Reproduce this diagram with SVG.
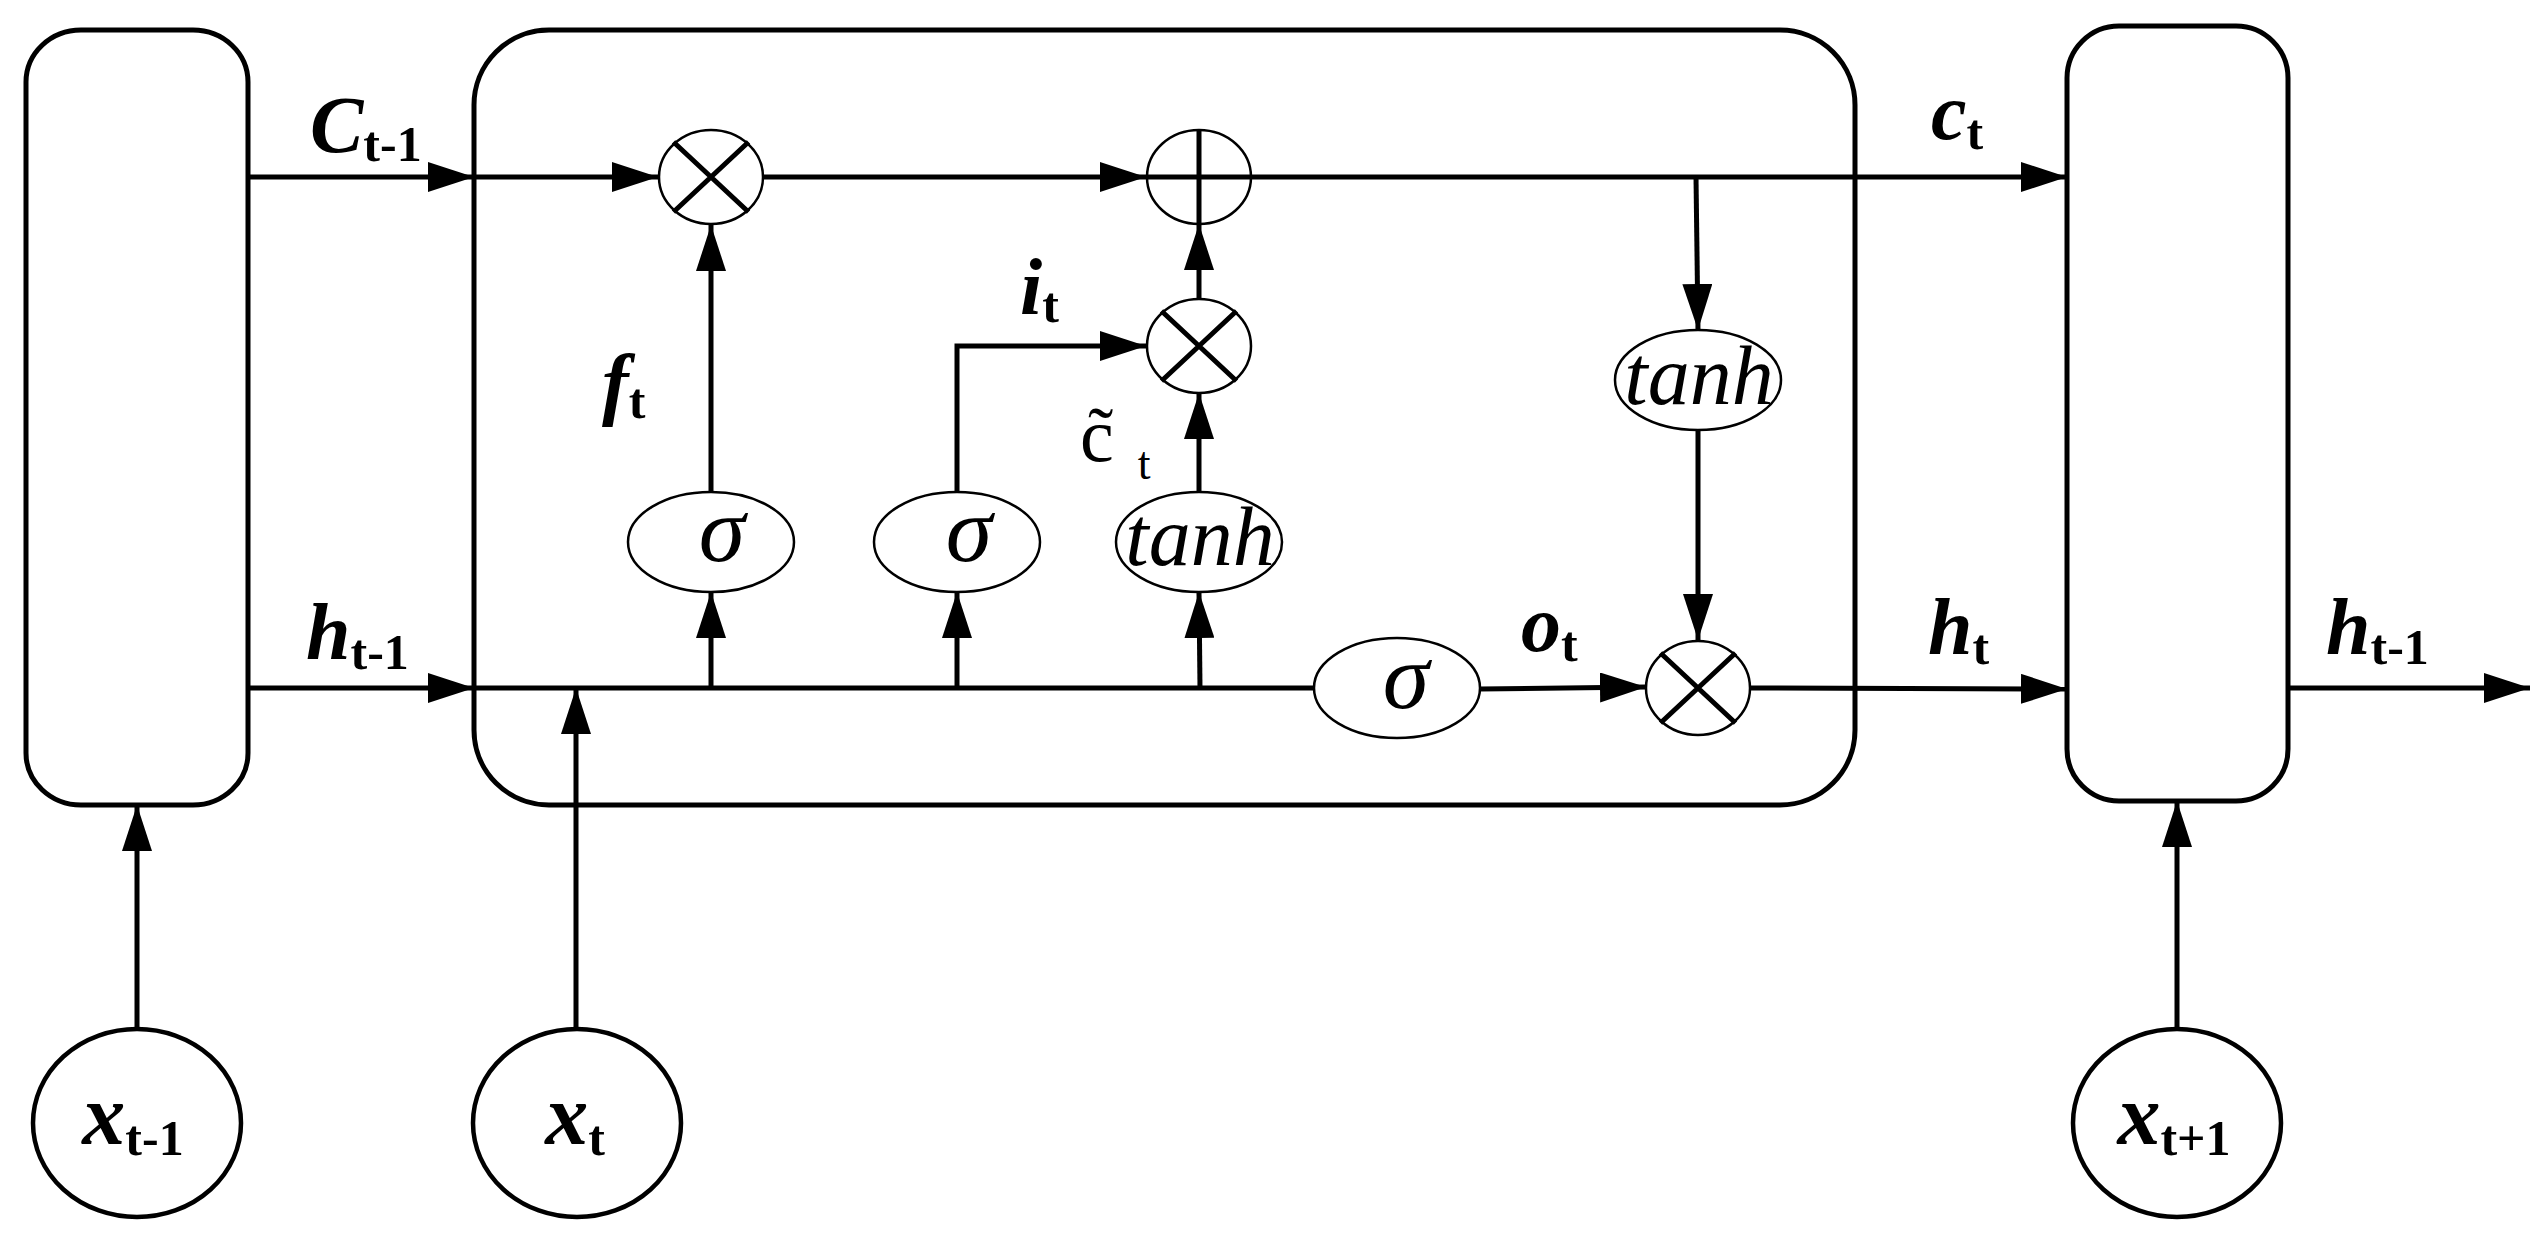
<svg xmlns="http://www.w3.org/2000/svg" width="2545" height="1250" viewBox="0 0 2545 1250">
<style>
.box{fill:none;stroke:#000;stroke-width:5}
.op{fill:#fff;stroke:#000;stroke-width:2.5}
.bar{stroke:#000;stroke-width:5;fill:none}
.in{fill:#fff;stroke:#000;stroke-width:4.5}
.wire{fill:none;stroke:#000;stroke-width:5}
.fn{font-family:"Liberation Serif","Times New Roman",serif;font-style:italic;font-size:84px;text-anchor:middle}
.sg{font-size:94px}
.lab{font-family:"Liberation Serif","Times New Roman",serif;font-weight:bold;font-style:italic;font-size:80px}
.big{font-size:86px}
.sub{font-style:normal;font-size:50px}
.rom{font-family:"Liberation Serif","Times New Roman",serif;fill:#000}
</style>
<defs>
<marker id="ah" markerUnits="userSpaceOnUse" markerWidth="46" markerHeight="30" refX="46" refY="15" orient="auto">
<path d="M0,0 L46,15 L0,30 z" fill="#000"/>
</marker>
</defs>
<rect width="2545" height="1250" fill="#fff"/>

<g id="cell-prev"><rect class="box" x="26" y="30" width="222" height="775" rx="55" ry="52"/></g>
<g id="cell-main"><rect class="box" x="474" y="30" width="1381" height="775" rx="75" ry="75"/></g>
<g id="cell-next"><rect class="box" x="2067" y="26" width="221" height="775" rx="52" ry="52"/></g>

<g id="connectors">
<line class="wire" x1="248" y1="177" x2="474" y2="177" marker-end="url(#ah)"/>
<line class="wire" x1="474" y1="177" x2="658" y2="177" marker-end="url(#ah)"/>
<line class="wire" x1="763" y1="177" x2="1146" y2="177" marker-end="url(#ah)"/>
<line class="wire" x1="1251" y1="177" x2="2067" y2="177" marker-end="url(#ah)"/>
<line class="wire" x1="1696" y1="177" x2="1698" y2="330" marker-end="url(#ah)"/>
<line class="wire" x1="1698" y1="430" x2="1698" y2="640" marker-end="url(#ah)"/>
<line class="wire" x1="711" y1="492" x2="711" y2="225" marker-end="url(#ah)"/>
<line class="wire" x1="711" y1="688" x2="711" y2="592" marker-end="url(#ah)"/>
<line class="wire" x1="957" y1="688" x2="957" y2="592" marker-end="url(#ah)"/>
<line class="wire" x1="1200" y1="688" x2="1199" y2="592" marker-end="url(#ah)"/>
<polyline class="wire" points="957,492 957,346 1146,346" marker-end="url(#ah)"/>
<line class="wire" x1="1199" y1="492" x2="1199" y2="393" marker-end="url(#ah)"/>
<line class="wire" x1="1199" y1="299" x2="1199" y2="224" marker-end="url(#ah)"/>
<line class="wire" x1="248" y1="688" x2="474" y2="688" marker-end="url(#ah)"/>
<line class="wire" x1="474" y1="688" x2="1315" y2="688"/>
<line class="wire" x1="1480" y1="689" x2="1646" y2="687" marker-end="url(#ah)"/>
<line class="wire" x1="1750" y1="688" x2="2067" y2="689" marker-end="url(#ah)"/>
<line class="wire" x1="2288" y1="688" x2="2530" y2="688" marker-end="url(#ah)"/>
<line class="wire" x1="137" y1="1028" x2="137" y2="805" marker-end="url(#ah)"/>
<line class="wire" x1="576" y1="1028" x2="576" y2="688" marker-end="url(#ah)"/>
<line class="wire" x1="2177" y1="1028" x2="2177" y2="801" marker-end="url(#ah)"/>
</g>

<g id="mul-forget">
<ellipse class="op" cx="711" cy="177" rx="52" ry="47"/>
<path class="bar" d="M673.5,142 L748.5,212 M748.5,142 L673.5,212"/>
</g>
<g id="add-cell">
<ellipse class="op" cx="1199" cy="177" rx="52" ry="47"/>
<path class="bar" d="M1147,177 L1251,177 M1199,130 L1199,224"/>
</g>
<g id="mul-input">
<ellipse class="op" cx="1199" cy="346" rx="52" ry="47"/>
<path class="bar" d="M1161.5,311 L1236.5,381 M1236.5,311 L1161.5,381"/>
</g>
<g id="mul-output">
<ellipse class="op" cx="1698" cy="688" rx="52" ry="47"/>
<path class="bar" d="M1660.5,653 L1735.5,723 M1735.5,653 L1660.5,723"/>
</g>

<g id="sigma-forget">
<ellipse class="op" cx="711" cy="542" rx="83" ry="50"/>
<text class="fn sg" x="722" y="561">σ</text>
</g>
<g id="sigma-input">
<ellipse class="op" cx="957" cy="542" rx="83" ry="50"/>
<text class="fn sg" x="969" y="561">σ</text>
</g>
<g id="tanh-candidate">
<ellipse class="op" cx="1199" cy="542" rx="83" ry="50"/>
<text class="fn" x="1200" y="565">tanh</text>
</g>
<g id="sigma-output">
<ellipse class="op" cx="1397" cy="688" rx="83" ry="50"/>
<text class="fn sg" x="1406" y="708">σ</text>
</g>
<g id="tanh-cell">
<ellipse class="op" cx="1698" cy="380" rx="83" ry="50"/>
<text class="fn" x="1699" y="404">tanh</text>
</g>

<g id="x-prev">
<ellipse class="in" cx="137" cy="1123" rx="104" ry="94"/>
<text class="lab big" x="133" y="1144" text-anchor="middle">x<tspan class="sub" dy="11">t-1</tspan></text>
</g>
<g id="x-cur">
<ellipse class="in" cx="577" cy="1123" rx="104" ry="94"/>
<text class="lab big" x="575" y="1144" text-anchor="middle">x<tspan class="sub" dy="11">t</tspan></text>
</g>
<g id="x-next">
<ellipse class="in" cx="2177" cy="1123" rx="104" ry="94"/>
<text class="lab big" x="2174" y="1144" text-anchor="middle">x<tspan class="sub" dy="11">t+1</tspan></text>
</g>

<g id="labels">
<text class="lab" x="310" y="152">C<tspan class="sub" dy="9">t-1</tspan></text>
<text class="lab" x="306" y="659">h<tspan class="sub" dy="10">t-1</tspan></text>
<text class="lab" x="602" y="410">f<tspan class="sub" dy="8">t</tspan></text>
<text class="lab" x="1020" y="314">i<tspan class="sub" dy="8">t</tspan></text>
<text class="rom" x="1080" y="461" font-size="76px">c̃<tspan dx="24" dy="18" font-size="46px">t</tspan></text>
<text class="lab" x="1521" y="651">o<tspan class="sub" dy="10">t</tspan></text>
<text class="lab" x="1931" y="139">c<tspan class="sub" dy="10">t</tspan></text>
<text class="lab" x="1928" y="654">h<tspan class="sub" dy="10">t</tspan></text>
<text class="lab" x="2326" y="654">h<tspan class="sub" dy="10">t-1</tspan></text>
</g>
</svg>
